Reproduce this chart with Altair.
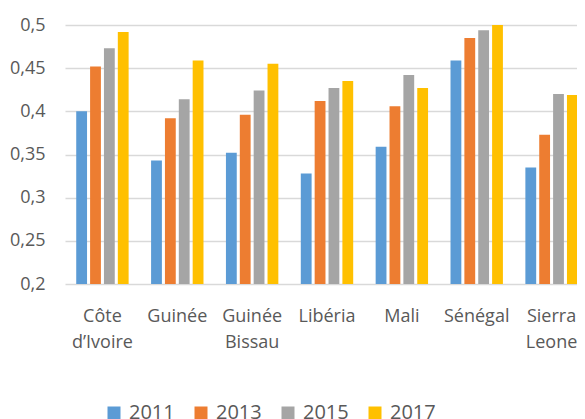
import altair as alt
import pandas as pd

countries = ["Côte d’Ivoire", "Guinée", "Guinée Bissau", "Libéria", "Mali", "Sénégal", "Sierra Leone"]
years = ["2011", "2013", "2015", "2017"]
v2011 = [0.400, 0.343, 0.352, 0.328, 0.359, 0.459, 0.335]
v2013 = [0.452, 0.392, 0.396, 0.412, 0.406, 0.485, 0.373]
v2015 = [0.473, 0.414, 0.424, 0.427, 0.442, 0.494, 0.420]
v2017 = [0.492, 0.459, 0.455, 0.435, 0.427, 0.500, 0.419]
y_ticks = [0.2, 0.25, 0.3, 0.35, 0.4, 0.45, 0.5]
colors = ["#5B9BD5", "#ED7D31", "#A5A5A5", "#FFC000"]

rows = []
for yr, vals in zip(years, [v2011, v2013, v2015, v2017]):
    for c, v in zip(countries, vals):
        rows.append({"pays": c, "annee": yr, "valeur": v})
df = pd.DataFrame(rows)

FONT = "Open Sans"
TXT = "#595959"

chart = alt.Chart(df).mark_bar().encode(
    x=alt.X("pays:N", sort=countries, title=None,
            scale=alt.Scale(paddingInner=0.3, paddingOuter=0.15, range=[0, 524]),
            axis=alt.Axis(labelAngle=0, ticks=False, domain=False, labelFont=FONT,
                          labelFontSize=18, labelColor=TXT, labelPadding=23,
                          labelLineHeight=26, labelBaseline="top",
                          labelExpr="split(datum.label, ' ')")),
    xOffset=alt.XOffset("annee:N", sort=years, scale=alt.Scale(paddingInner=0.22)),
    y=alt.Y("valeur:Q", title=None,
            scale=alt.Scale(domain=[0.2, 0.5], zero=False, nice=False),
            axis=alt.Axis(values=y_ticks, grid=True, gridColor="#d9d9d9", gridWidth=1.3,
                          domain=False, ticks=False, labelFont=FONT, labelFontSize=18,
                          labelColor=TXT, labelPadding=20,
                          labelExpr="replace(toString(datum.value), '.', ',')")),
    y2=alt.datum(0.2),
    color=alt.Color("annee:N", sort=years, title=None,
                    scale=alt.Scale(domain=years, range=colors),
                    legend=alt.Legend(orient="none", direction="horizontal",
                                      legendX=39, legendY=378, symbolType="square",
                                      symbolSize=169, symbolStrokeWidth=0,
                                      labelFont=FONT, labelFontSize=20, labelColor=TXT,
                                      labelOffset=5, columnPadding=16, columns=4)),
).properties(
    width=512, height=259,
    autosize=alt.AutoSizeParams(type="none"),
    padding={"left": 57, "top": 17, "right": 0, "bottom": 140},
).configure_view(stroke=None)

chart.save("out.html", embed_options={"renderer": "svg", "actions": False})
